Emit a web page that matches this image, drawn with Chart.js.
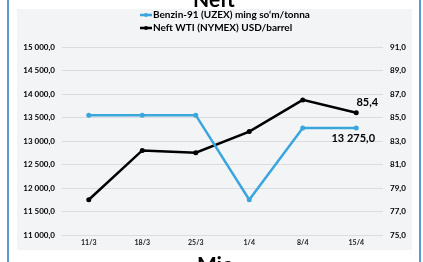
<!DOCTYPE html>
<html>
<head>
<meta charset="utf-8">
<script src="https://cdn.jsdelivr.net/npm/chart.js@4/dist/chart.umd.min.js"></script>
<style>
  html, body { margin: 0; padding: 0; background: #fff; }
  #c { display: block; }
</style>
</head>
<body>
<canvas id="c" width="423" height="262"></canvas>
<script>
'use strict';

const categories = ['11/3', '18/3', '25/3', '1/4', '8/4', '15/4'];
const benzinValues = [13550, 13550, 13550, 11750, 13275, 13275];
const neftValues = [78.0, 82.2, 82.0, 83.8, 86.5, 85.4];
const benzinLabel = 'Benzin-91 (UZEX) ming so\u2018m/tonna';
const neftLabel = 'Neft WTI (NYMEX) USD/barrel';
const chartTitle = 'Neft';
const axisTitle = 'Mie';

const BLUE = '#3aa6dd';
const FONT = 'Lato, "Liberation Sans", sans-serif';

function fmt(v, d) {
    const parts = Number(v).toFixed(d).split('.');
    parts[0] = parts[0].replace(/\B(?=(\d{3})+(?!\d))/g, ' ');
    return parts.join(',');
}

const framePlugin = {
    id: 'frame',
    beforeDraw(chart) {
        const ctx = chart.ctx;
        ctx.save();
        ctx.fillStyle = '#ffffff';
        ctx.fillRect(0, 0, chart.width, chart.height);
        ctx.fillStyle = '#f3f4f6';
        ctx.fillRect(17, 9, 395, 241);
        ctx.fillStyle = '#5b9bd5';
        ctx.fillRect(7, 0, 2, chart.height);
        ctx.fillRect(419, 0, 2, chart.height);
        ctx.restore();
    },
    afterDraw(chart) {
        const ctx = chart.ctx;
        ctx.save();
        // cut-off titles
        ctx.fillStyle = '#000';
        ctx.textAlign = 'center';
        ctx.textBaseline = 'alphabetic';
        ctx.font = 'bold 21px ' + FONT;
        ctx.fillText(chartTitle, 214, 7);
        ctx.fillText(axisTitle, 215, 272);

        // legend
        const rows = [
            { text: chart.data.datasets[0].label, color: BLUE, y: 15 },
            { text: chart.data.datasets[1].label, color: '#000', y: 28 }
        ];
        ctx.textAlign = 'left';
        ctx.textBaseline = 'middle';
        ctx.font = 'bold 10px ' + FONT;
        rows.forEach(r => {
            ctx.strokeStyle = r.color;
            ctx.lineWidth = 2.5;
            ctx.beginPath();
            ctx.moveTo(140, r.y);
            ctx.lineTo(152, r.y);
            ctx.stroke();
            ctx.fillStyle = r.color;
            ctx.beginPath();
            ctx.arc(146, r.y, 2, 0, Math.PI * 2);
            ctx.fill();
            ctx.fillStyle = '#000';
            ctx.fillText(r.text, 153, r.y);
        });

        // data labels on the last points
        ctx.font = 'bold 11px ' + FONT;
        ctx.textAlign = 'center';
        const bMeta = chart.getDatasetMeta(0);
        const nMeta = chart.getDatasetMeta(1);
        const bp = bMeta.data[bMeta.data.length - 1];
        const np = nMeta.data[nMeta.data.length - 1];
        ctx.fillText(fmt(neftValues[neftValues.length - 1], 1), np.x + 11, np.y - 10);
        ctx.fillText(fmt(benzinValues[benzinValues.length - 1], 1), bp.x - 3, bp.y + 10);
        ctx.restore();
    }
};

new Chart(document.getElementById('c'), {
    type: 'line',
    data: {
        labels: categories,
        datasets: [{
            label: benzinLabel,
            data: benzinValues,
            yAxisID: 'y',
            borderColor: BLUE,
            backgroundColor: BLUE,
            borderWidth: 2.5,
            pointRadius: 2.5,
            pointBorderWidth: 0,
            tension: 0
        }, {
            label: neftLabel,
            data: neftValues,
            yAxisID: 'y1',
            borderColor: '#000',
            backgroundColor: '#000',
            borderWidth: 2.5,
            pointRadius: 2.5,
            pointBorderWidth: 0,
            tension: 0
        }]
    },
    options: {
        responsive: false,
        animation: false,
        devicePixelRatio: 1,
        layout: { padding: { left: 17, right: 0, top: 47, bottom: 12 } },
        plugins: {
            legend: { display: false },
            title: { display: false },
            tooltip: { enabled: false }
        },
        scales: {
            x: {
                offset: true,
                grid: { display: false, drawTicks: false },
                border: { display: false },
                ticks: { color: '#222', font: { family: FONT, size: 7, weight: 'bold' }, padding: 4, maxRotation: 0 },
                afterFit(s) { s.height = 15; }
            },
            y: {
                position: 'left',
                min: 11000,
                max: 15000,
                grid: { color: '#dcdcdc', lineWidth: 1, drawTicks: false },
                border: { display: false },
                ticks: {
                    stepSize: 500,
                    padding: 7,
                    color: '#000',
                    font: { family: FONT, size: 8, weight: 'bold' },
                    callback: v => fmt(v, 1)
                },
                afterFit(s) { s.width = 45; }
            },
            y1: {
                position: 'right',
                min: 75,
                max: 91,
                grid: { display: false, drawTicks: false },
                border: { display: false },
                ticks: {
                    stepSize: 2,
                    padding: 7,
                    color: '#000',
                    font: { family: FONT, size: 8, weight: 'bold' },
                    callback: v => fmt(v, 1)
                },
                afterFit(s) { s.width = 40; }
            }
        }
    },
    plugins: [framePlugin]
});
</script>
</body>
</html>
